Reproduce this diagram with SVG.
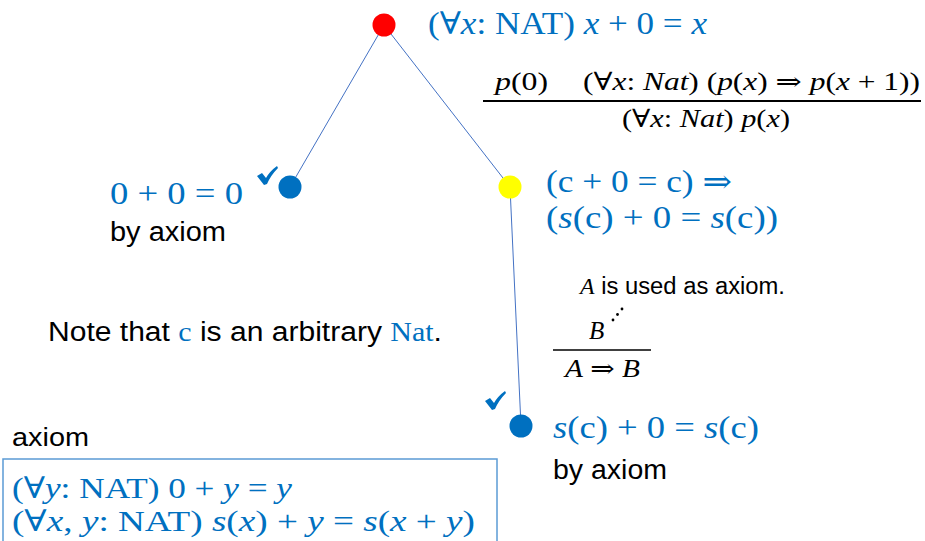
<svg xmlns="http://www.w3.org/2000/svg" width="925" height="541" viewBox="0 0 925 541">
<style>
.m{font-family:"Liberation Serif","DejaVu Serif",serif;fill:#0070C0;}
.i{font-style:italic;}
.k{font-family:"Liberation Serif","DejaVu Serif",serif;fill:#000;}
.s{font-family:"Liberation Sans","Open Sans",sans-serif;fill:#000;}
.edge{stroke:#4472C4;stroke-width:1;fill:none;}
.chk{fill:#0070C0;}
</style>
<rect width="925" height="541" fill="#fff"/>
<g id="connectors">
<line class="edge" x1="384" y1="25" x2="290" y2="187"/>
<line class="edge" x1="384" y1="25" x2="510" y2="187"/>
<line class="edge" x1="510" y1="187" x2="521" y2="426"/>
</g>
<g id="root">
<circle cx="384" cy="25" r="11.5" fill="#FF0000"/>
<text class="m" x="428" y="34" font-size="31" textLength="279" lengthAdjust="spacingAndGlyphs">(∀<tspan class="i">x</tspan>: NAT) <tspan class="i">x</tspan> + 0 = <tspan class="i">x</tspan></text>
</g>
<g id="base">
<circle cx="290" cy="187" r="11.5" fill="#0070C0"/>
<path class="chk" d="M257,176 L262,173 L266,178 Q270,171 277,166 L278,168 Q271,175 267,184 L264,185 Z"/>
<text class="m" x="110" y="204" font-size="31" textLength="133" lengthAdjust="spacingAndGlyphs">0 + 0 = 0</text>
<text class="s" x="110" y="241" font-size="27" textLength="116" lengthAdjust="spacingAndGlyphs">by axiom</text>
</g>
<g id="step">
<circle cx="510" cy="187" r="11.5" fill="#FFFF00"/>
<text class="m" x="546" y="192" font-size="31" textLength="186" lengthAdjust="spacingAndGlyphs">(c + 0 = c) ⇒</text>
<text class="m" x="546" y="228" font-size="31" textLength="232" lengthAdjust="spacingAndGlyphs">(<tspan class="i">s</tspan>(c) + 0 = <tspan class="i">s</tspan>(c))</text>
</g>
<g id="leaf">
<circle cx="521" cy="426" r="11.5" fill="#0070C0"/>
<path class="chk" d="M485,401 L490,398 L494,403 Q498,396 505,391 L506,393 Q499,400 495,409 L492,410 Z"/>
<text class="m" x="553" y="438" font-size="31" textLength="206" lengthAdjust="spacingAndGlyphs"><tspan class="i">s</tspan>(c) + 0 = <tspan class="i">s</tspan>(c)</text>
<text class="s" x="553" y="479" font-size="27" textLength="114" lengthAdjust="spacingAndGlyphs">by axiom</text>
</g>
<g id="induction">
<text class="k" x="495" y="90" font-size="25" textLength="53" lengthAdjust="spacingAndGlyphs"><tspan class="i">p</tspan>(0)</text>
<text class="k" x="583" y="90" font-size="25" textLength="337" lengthAdjust="spacingAndGlyphs">(∀<tspan class="i">x</tspan>: <tspan class="i">Nat</tspan>) (<tspan class="i">p</tspan>(<tspan class="i">x</tspan>) ⇒ <tspan class="i">p</tspan>(<tspan class="i">x</tspan> + 1))</text>
<line x1="483" y1="101" x2="921" y2="101" stroke="#000" stroke-width="2"/>
<text class="k" x="622" y="127" font-size="25" textLength="168" lengthAdjust="spacingAndGlyphs">(∀<tspan class="i">x</tspan>: <tspan class="i">Nat</tspan>) <tspan class="i">p</tspan>(<tspan class="i">x</tspan>)</text>
</g>
<g id="implication">
<text x="580" y="294" font-size="23" textLength="205" lengthAdjust="spacingAndGlyphs"><tspan class="k i">A</tspan><tspan class="s"> is used as axiom.</tspan></text>
<text class="k i" x="589" y="339" font-size="25">B</text>
<circle cx="613" cy="320" r="1.4" fill="#000"/>
<circle cx="617.5" cy="314.5" r="1.4" fill="#000"/>
<circle cx="622" cy="309" r="1.4" fill="#000"/>
<line x1="553" y1="350" x2="651" y2="350" stroke="#000" stroke-width="1.5"/>
<text class="k" x="565" y="377" font-size="25" textLength="75" lengthAdjust="spacingAndGlyphs"><tspan class="i">A</tspan> ⇒ <tspan class="i">B</tspan></text>
</g>
<g id="note">
<text class="s" x="48" y="341" font-size="27" textLength="394" lengthAdjust="spacingAndGlyphs">Note that <tspan fill="#0070C0" font-family="Liberation Serif, serif">c</tspan> is an arbitrary <tspan fill="#0070C0" font-family="Liberation Serif, serif">Nat</tspan>.</text>
</g>
<g id="axioms">
<text class="s" x="12" y="446" font-size="25" textLength="77" lengthAdjust="spacingAndGlyphs">axiom</text>
<rect x="3" y="459" width="494" height="100" fill="none" stroke="#5B9BD5" stroke-width="1.5"/>
<text class="m" x="12" y="498" font-size="30" textLength="280" lengthAdjust="spacingAndGlyphs">(∀<tspan class="i">y</tspan>: NAT) 0 + <tspan class="i">y</tspan> = <tspan class="i">y</tspan></text>
<text class="m" x="12" y="531" font-size="30" textLength="463" lengthAdjust="spacingAndGlyphs">(∀<tspan class="i">x</tspan>, <tspan class="i">y</tspan>: NAT) <tspan class="i">s</tspan>(<tspan class="i">x</tspan>)  +  <tspan class="i">y</tspan> = <tspan class="i">s</tspan>(<tspan class="i">x</tspan> + <tspan class="i">y</tspan>)</text>
</g>
</svg>
